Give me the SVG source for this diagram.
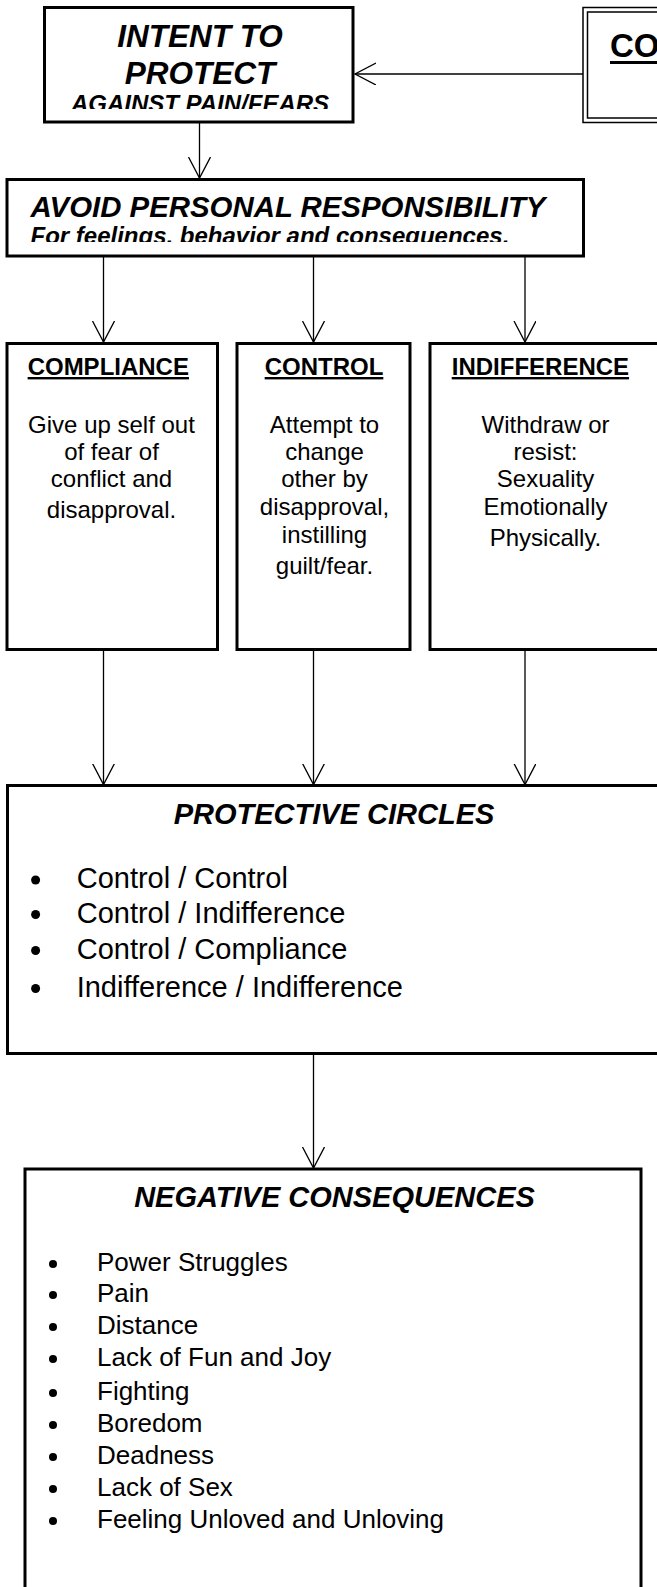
<svg xmlns="http://www.w3.org/2000/svg" width="657" height="1587" viewBox="0 0 657 1587">
<style>
.box{fill:#fff;stroke:#000;stroke-width:3}
.thin{fill:none;stroke:#000;stroke-width:1.5}
.con{fill:none;stroke:#000;stroke-width:1.3}
text{font-family:"Liberation Sans",Arial,sans-serif;fill:#000}
.bi{font-weight:bold;font-style:italic}
.b{font-weight:bold}
.mid{text-anchor:middle}
.h{font-size:24px;font-weight:bold;text-decoration:underline}
.body{font-size:24px}
.lp{font-size:29px}
.ln{font-size:26px}
</style>
<defs>
<marker id="arr" markerUnits="userSpaceOnUse" markerWidth="30" markerHeight="30" refX="21" refY="11" orient="auto">
<path d="M0,0 L21,11 L0,22" fill="none" stroke="#000" stroke-width="1.3"/>
</marker>
<clipPath id="clipIntent"><rect x="40" y="0" width="320" height="109"/></clipPath>
<clipPath id="clipAvoid"><rect x="0" y="170" width="590" height="72"/></clipPath>
</defs>

<g id="connectors">
<line class="con" x1="583" y1="74" x2="355" y2="74" marker-end="url(#arr)"/>
<line class="con" x1="199.5" y1="122" x2="199.5" y2="178" marker-end="url(#arr)"/>
<line class="con" x1="103.5" y1="256" x2="103.5" y2="342" marker-end="url(#arr)"/>
<line class="con" x1="313.5" y1="256" x2="313.5" y2="342" marker-end="url(#arr)"/>
<line class="con" x1="525" y1="256" x2="525" y2="342" marker-end="url(#arr)"/>
<line class="con" x1="103.5" y1="650" x2="103.5" y2="784.5" marker-end="url(#arr)"/>
<line class="con" x1="313.5" y1="650" x2="313.5" y2="784.5" marker-end="url(#arr)"/>
<line class="con" x1="525" y1="650" x2="525" y2="784.5" marker-end="url(#arr)"/>
<line class="con" x1="313.5" y1="1054" x2="313.5" y2="1168" marker-end="url(#arr)"/>
</g>

<g id="intent">
<rect class="box" x="44.5" y="7.5" width="308.5" height="114.5"/>
<g clip-path="url(#clipIntent)">
<text class="bi mid" x="200" y="47" font-size="31.5">INTENT TO</text>
<text class="bi mid" x="200" y="84" font-size="31.5">PROTECT</text>
<text class="bi mid" x="200" y="112" font-size="24">AGAINST PAIN/FEARS</text>
</g>
</g>

<g id="co">
<rect class="thin" x="583" y="7.5" width="110" height="115" stroke-width="2"/>
<rect class="thin" x="587.5" y="12" width="100" height="106" stroke-width="1.3"/>
<text class="b" x="610" y="57" font-size="33">CO</text>
<rect x="610" y="61" width="60" height="3" fill="#000"/>
</g>

<g id="avoid">
<rect class="box" x="7" y="179.5" width="576.5" height="76.5"/>
<g clip-path="url(#clipAvoid)">
<text class="bi" x="30.5" y="217" font-size="29.4">AVOID PERSONAL RESPONSIBILITY</text>
<text class="bi" x="30.5" y="244" font-size="24">For feelings, behavior and consequences.</text>
</g>
</g>

<g id="compliance">
<rect class="box" x="7" y="343.5" width="210.5" height="306"/>
<text class="h mid" x="108.3" y="375">COMPLIANCE</text>
<text class="body mid" x="111.5" y="433">Give up self out</text>
<text class="body mid" x="111.5" y="460">of fear of</text>
<text class="body mid" x="111.5" y="487">conflict and</text>
<text class="body mid" x="111.5" y="518">disapproval.</text>
</g>

<g id="control">
<rect class="box" x="237" y="343.5" width="173" height="306"/>
<text class="h mid" x="324" y="375">CONTROL</text>
<text class="body mid" x="324.5" y="433">Attempt to</text>
<text class="body mid" x="324.5" y="460">change</text>
<text class="body mid" x="324.5" y="487">other by</text>
<text class="body mid" x="324.5" y="515">disapproval,</text>
<text class="body mid" x="324.5" y="543">instilling</text>
<text class="body mid" x="324.5" y="574">guilt/fear.</text>
</g>

<g id="indifference">
<rect class="box" x="430" y="343.5" width="229" height="306"/>
<text class="h mid" x="540.4" y="375">INDIFFERENCE</text>
<text class="body mid" x="545.5" y="433">Withdraw or</text>
<text class="body mid" x="545.5" y="460">resist:</text>
<text class="body mid" x="545.5" y="487">Sexuality</text>
<text class="body mid" x="545.5" y="515">Emotionally</text>
<text class="body mid" x="545.5" y="546">Physically.</text>
</g>

<g id="protective">
<rect class="box" x="7.5" y="785.5" width="655" height="268"/>
<text class="bi mid" x="334" y="824" font-size="29">PROTECTIVE CIRCLES</text>
<circle cx="35.6" cy="880" r="4.5"/>
<circle cx="35.6" cy="914.5" r="4.5"/>
<circle cx="35.6" cy="950.5" r="4.5"/>
<circle cx="35.6" cy="988.5" r="4.5"/>
<text class="lp" x="76.7" y="888">Control / Control</text>
<text class="lp" x="76.7" y="923">Control / Indifference</text>
<text class="lp" x="76.7" y="959">Control / Compliance</text>
<text class="lp" x="76.7" y="997">Indifference / Indifference</text>
</g>

<g id="negative">
<rect class="box" x="25" y="1169" width="616" height="440"/>
<text class="bi mid" x="334.5" y="1207" font-size="29">NEGATIVE CONSEQUENCES</text>
<g>
<circle cx="53" cy="1264" r="4"/>
<circle cx="53" cy="1295" r="4"/>
<circle cx="53" cy="1327" r="4"/>
<circle cx="53" cy="1359" r="4"/>
<circle cx="53" cy="1393" r="4"/>
<circle cx="53" cy="1425" r="4"/>
<circle cx="53" cy="1457" r="4"/>
<circle cx="53" cy="1489" r="4"/>
<circle cx="53" cy="1521" r="4"/>
</g>
<text class="ln" x="97" y="1271">Power Struggles</text>
<text class="ln" x="97" y="1302">Pain</text>
<text class="ln" x="97" y="1334">Distance</text>
<text class="ln" x="97" y="1366">Lack of Fun and Joy</text>
<text class="ln" x="97" y="1400">Fighting</text>
<text class="ln" x="97" y="1432">Boredom</text>
<text class="ln" x="97" y="1464">Deadness</text>
<text class="ln" x="97" y="1496">Lack of Sex</text>
<text class="ln" x="97" y="1528">Feeling Unloved and Unloving</text>
</g>
</svg>
